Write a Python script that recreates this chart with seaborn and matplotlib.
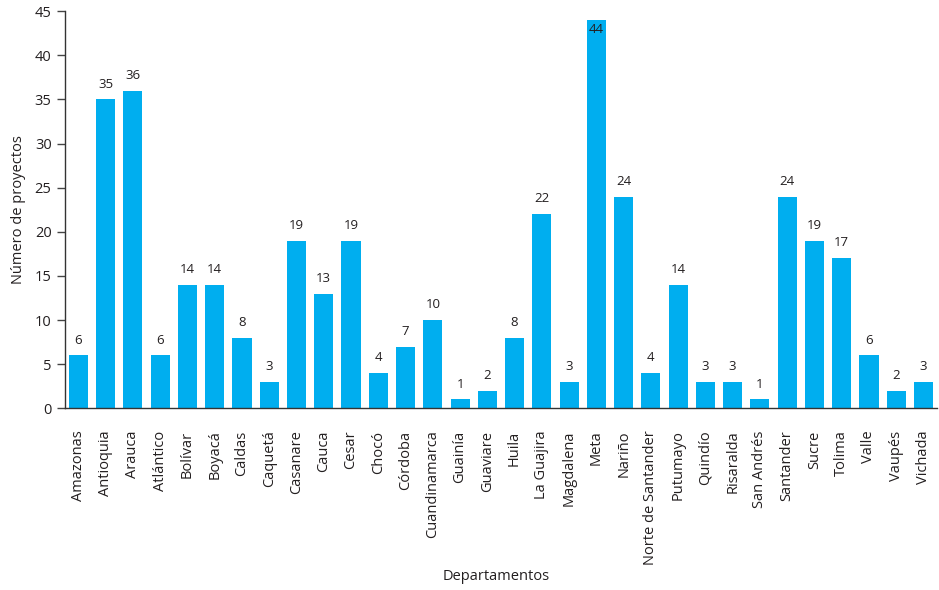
import pandas as pd
import matplotlib.pyplot as plt
import seaborn as sns
from matplotlib.ticker import FixedLocator

departamentos = ['Amazonas', 'Antioquia', 'Arauca', 'Atlántico', 'Bolívar', 'Boyacá', 'Caldas',
                 'Caquetá', 'Casanare', 'Cauca', 'Cesar', 'Chocó', 'Córdoba', 'Cuandinamarca',
                 'Guainía', 'Guaviare', 'Huila', 'La Guajira', 'Magdalena', 'Meta', 'Nariño',
                 'Norte de Santander', 'Putumayo', 'Quindío', 'Risaralda', 'San Andrés',
                 'Santander', 'Sucre', 'Tolima', 'Valle', 'Vaupés', 'Vichada']
proyectos = [6, 35, 36, 6, 14, 14, 8, 3, 19, 13, 19, 4, 7, 10, 1, 2, 8, 22, 3, 44, 24, 4,
             14, 3, 3, 1, 24, 19, 17, 6, 2, 3]
y_ticks = [0, 5, 10, 15, 20, 25, 30, 35, 40, 45]

df = pd.DataFrame({'Departamento': departamentos, 'Proyectos': proyectos})

sns.set_style('white')
plt.rcParams['font.family'] = ['Open Sans', 'DejaVu Sans']
text_color = '#231f20'

fig = plt.figure(figsize=(9.39, 5.9), dpi=100)
ax = fig.add_axes([0.069, 0.308, 0.929, 0.673])

sns.barplot(data=df, x='Departamento', y='Proyectos', color='#00aeef',
            saturation=1, width=0.7, linewidth=0, ax=ax)

ax.set_ylim(0, 45)
ax.set_xlim(-0.5, len(departamentos) - 0.5)
ax.set_yticks(y_ticks)

# value labels (Meta doesn't fit above, goes inside the bar)
for i, v in enumerate(proyectos):
    if v + 2.5 > 45:
        ax.text(i, v - 0.3, str(v), ha='center', va='top', fontsize=9.5, color=text_color)
    else:
        ax.text(i, v + 1.0, str(v), ha='center', va='bottom', fontsize=9.5, color=text_color)

# tick marks between bars, labels under bars
ax.xaxis.set_minor_locator(FixedLocator([i - 0.5 for i in range(len(departamentos) + 1)]))
ax.tick_params(axis='x', which='major', length=0, pad=16, labelsize=10.5, labelcolor=text_color)
ax.tick_params(axis='x', which='minor', length=11, width=1, color='#444444', direction='out')
ax.tick_params(axis='y', which='major', length=6, width=1, color='#444444', direction='out',
               labelsize=10.5, labelcolor=text_color, left=True)
for lbl in ax.get_xticklabels():
    lbl.set_rotation(90)

sns.despine(ax=ax)
for s in ['left', 'bottom']:
    ax.spines[s].set_color('#333333')
    ax.spines[s].set_linewidth(1)

ax.set_xlabel('Departamentos', fontsize=10.5, color=text_color)
ax.xaxis.set_label_coords(0.495, -0.405)
ax.set_ylabel('Número de proyectos', fontsize=10.5, color=text_color, labelpad=6)

fig.savefig('out.png', dpi=100)
